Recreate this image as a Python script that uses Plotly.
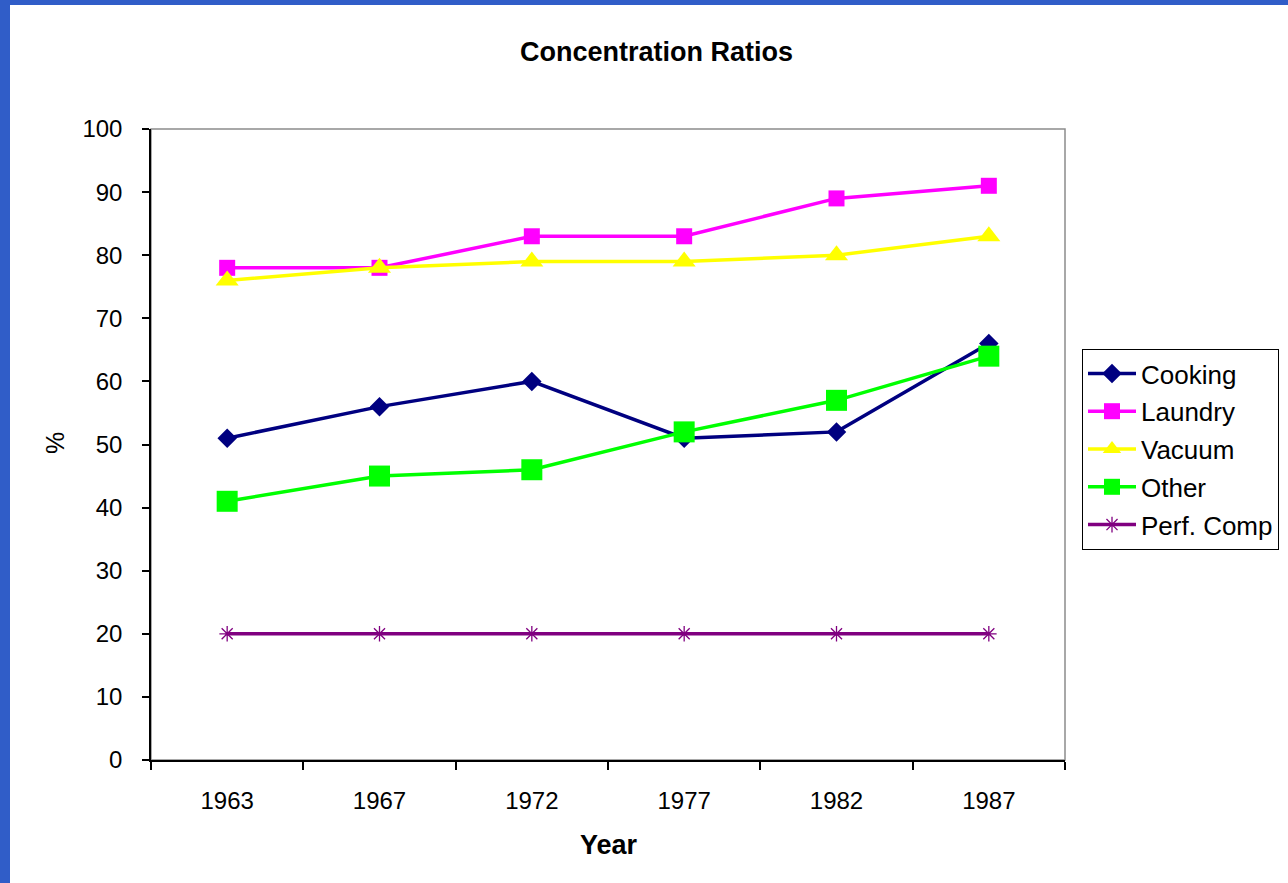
import plotly.graph_objects as go

years = ["1963", "1967", "1972", "1977", "1982", "1987"]
cooking = [51, 56, 60, 51, 52, 66]
laundry = [78, 78, 83, 83, 89, 91]
vacuum = [76, 78, 79, 79, 80, 83]
other = [41, 45, 46, 52, 57, 64]
perf_comp = [20, 20, 20, 20, 20, 20]
y_ticks = [0, 10, 20, 30, 40, 50, 60, 70, 80, 90, 100]

W, H = 1288, 883
L, R, T, B = 151, 1065, 129, 760
pw, ph = R - L, B - T

def px(x):
    return (x - L) / pw

def py(y):
    return (B - y) / ph

FONT = "Arial, Liberation Sans, sans-serif"

series = [
    ("Cooking", cooking, "#000080", "diamond", 15),
    ("Laundry", laundry, "#FF00FF", "square", 16),
    ("Vacuum", vacuum, "#FFFF00", "triangle-up", 20),
    ("Other", other, "#00FF00", "square", 21),
    ("Perf. Comp", perf_comp, "#800080", "asterisk-open", 13),
]

fig = go.Figure()
for i, (name, vals, col, sym, sz) in enumerate(series):
    fig.add_trace(go.Scatter(
        x=years, y=vals, name=name, mode="lines+markers",
        line=dict(color=col, width=3.5),
        marker=dict(symbol=sym, size=sz, color=col,
                    line=dict(color=col, width=1.3 if sym.startswith("asterisk") else 0)),
        legendgroup=f"g{i}",
    ))

shapes = [
    dict(type="rect", xref="paper", yref="paper", x0=0, x1=1, y0=0, y1=1,
         line=dict(color="#8c8c8c", width=1.5), layer="below"),
    dict(type="rect", xref="paper", yref="paper", x0=px(0), x1=px(W), y0=py(0), y1=py(5),
         fillcolor="#305dc8", line=dict(width=0)),
    dict(type="rect", xref="paper", yref="paper", x0=px(0), x1=px(10), y0=py(0), y1=py(H),
         fillcolor="#305dc8", line=dict(width=0)),
]

annotations = [
    dict(text="<b>Concentration Ratios</b>", xref="paper", yref="paper",
         x=px(656), y=py(52), showarrow=False, xanchor="center", yanchor="middle",
         font=dict(family=FONT, size=27, color="black")),
    dict(text="<b>Year</b>", xref="paper", yref="paper",
         x=px(609), y=py(845), showarrow=False, xanchor="center", yanchor="middle",
         font=dict(family=FONT, size=27, color="black")),
    dict(text="%", xref="paper", yref="paper", textangle=-90,
         x=px(55), y=py(443), showarrow=False, xanchor="center", yanchor="middle",
         font=dict(family=FONT, size=25, color="black")),
]

fig.update_layout(
    width=W, height=H,
    margin=dict(l=L, r=W - R, t=T, b=H - B, pad=0, autoexpand=False),
    paper_bgcolor="white", plot_bgcolor="white",
    font=dict(family=FONT, size=24, color="black"),
    showlegend=True,
    legend=dict(x=px(1082), y=py(349), xanchor="left", yanchor="top",
                bgcolor="white", bordercolor="#000000", borderwidth=1,
                font=dict(family=FONT, size=26, color="black"),
                traceorder="grouped", tracegroupgap=1, itemwidth=48),
    shapes=shapes,
    annotations=annotations,
)

fig.update_xaxes(
    type="category", range=[-0.5, 5.5], tickson="boundaries", automargin=False,
    showline=True, linecolor="black", linewidth=1.5,
    ticks="outside", ticklen=8, tickcolor="black", tickwidth=1.5,
    showgrid=False, zeroline=False, ticklabelstandoff=18,
    tickfont=dict(family=FONT, size=24, color="black"),
)
fig.update_yaxes(
    range=[0, 100], tickvals=y_ticks, automargin=False,
    showline=True, linecolor="black", linewidth=1.5,
    ticks="outside", ticklen=7, tickcolor="black", tickwidth=1.5,
    showgrid=False, zeroline=False, ticklabelstandoff=15,
    tickfont=dict(family=FONT, size=24, color="black"),
)

fig.write_html("out.html", config={"displayModeBar": False},
               post_script="document.body.style.margin='0px';")
